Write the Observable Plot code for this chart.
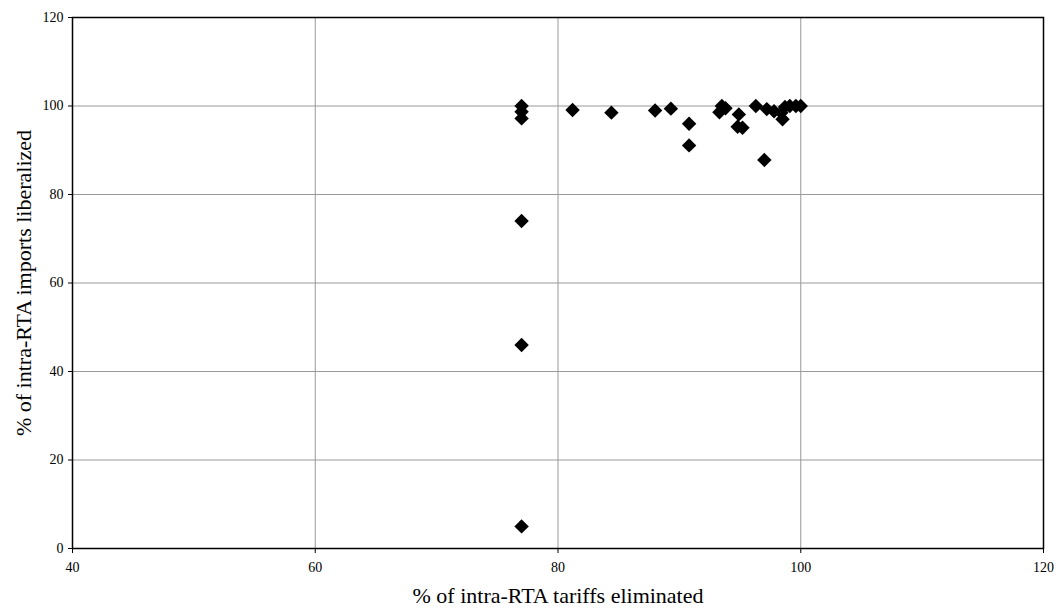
<!DOCTYPE html>
<html>
<head>
<meta charset="utf-8">
<script src="https://cdn.jsdelivr.net/npm/d3@7"></script>
<script src="https://cdn.jsdelivr.net/npm/@observablehq/plot@0.6"></script>
<style>
  html, body { margin: 0; padding: 0; background: #fff; }
  #chart svg { display: block; }
</style>
</head>
<body>
<div id="chart"></div>
<script>
const tariffsEliminated = [77, 77, 77, 77, 77, 77, 81.2, 84.4, 88, 89.3, 90.8, 90.8, 93.5, 93.8, 93.3, 94.9, 94.8, 95.2, 96.3, 97, 97.2, 97.8, 98.4, 98.5, 98.7, 99.1, 99.6, 100];
const importsLiberalized = [5, 46, 74, 97.2, 98.7, 100, 99.1, 98.5, 99, 99.4, 96, 91.1, 100, 99.5, 98.6, 98.1, 95.3, 95.1, 100, 87.8, 99.3, 98.8, 98.5, 97, 99.8, 100, 100, 100];
const xTicks = [40, 60, 80, 100, 120];
const yTicks = [0, 20, 40, 60, 80, 100, 120];
const xTitle = "% of intra-RTA tariffs eliminated";
const yTitle = "% of intra-RTA imports liberalized";

const data = tariffsEliminated.map((x, i) => ({x, y: importsLiberalized[i]}));

const chart = Plot.plot({
  width: 1056,
  height: 612,
  marginLeft: 72,
  marginRight: 13,
  marginTop: 17,
  marginBottom: 64,
  style: {fontFamily: "'Liberation Serif', 'Times New Roman', serif", fontSize: "14px", background: "#fff"},
  x: {domain: [40, 120]},
  y: {domain: [0, 120]},
  marks: [
    Plot.gridX(xTicks, {stroke: "#999", strokeOpacity: 1, strokeWidth: 1}),
    Plot.gridY(yTicks, {stroke: "#999", strokeOpacity: 1, strokeWidth: 1}),
    Plot.frame({stroke: "#000", strokeWidth: 1.5}),
    Plot.axisX(xTicks, {tickSize: 5, tickPadding: 9, stroke: "#000", fontSize: 14, fill: "#000", label: null}),
    Plot.axisY(yTicks, {tickSize: 4, tickPadding: 5, stroke: "#000", fontSize: 14, fill: "#000", label: null}),
    Plot.text([xTitle], {frameAnchor: "bottom", dy: 54, fontSize: 22, fill: "#000"}),
    Plot.text([yTitle], {frameAnchor: "left", dx: -49, rotate: -90, textAnchor: "middle", fontSize: 22, fill: "#000"}),
    Plot.dot(data, {x: "x", y: "y", symbol: "diamond2", r: 6.5, fill: "#000", stroke: "none"})
  ]
});
document.getElementById("chart").appendChild(chart);
</script>
</body>
</html>
